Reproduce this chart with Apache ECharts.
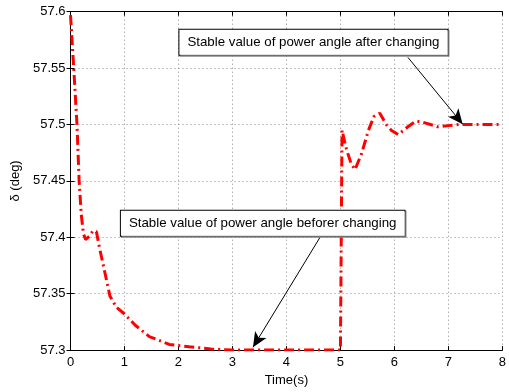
<!DOCTYPE html>
<html>
<head>
<meta charset="utf-8">
<script src="https://cdn.jsdelivr.net/npm/echarts@6/dist/echarts.min.js"></script>
<style>
  html, body { margin: 0; padding: 0; background: #fff; }
  #chart { width: 509px; height: 392px; }
</style>
</head>
<body>
<div id="chart"></div>
<script>
// power angle response
const time = [0, 0.06, 0.12, 0.16, 0.2, 0.24, 0.28, 0.35, 0.42, 0.48, 0.54, 0.6, 0.73, 0.85, 1.0, 1.2, 1.46, 1.83, 2.2, 2.6, 3.0, 3.5, 4.0, 4.5, 5.0,
  5.03, 5.1, 5.2, 5.27, 5.39, 5.52, 5.62, 5.73, 5.85, 5.94, 6.07, 6.25, 6.4, 6.53, 6.8, 7.0, 7.2, 7.6, 8.0];
const delta = [57.597, 57.55, 57.5, 57.45, 57.42, 57.403, 57.398, 57.401, 57.406, 57.405, 57.39, 57.377, 57.348, 57.338, 57.332, 57.322, 57.312, 57.305, 57.303, 57.301, 57.3, 57.3, 57.3, 57.3, 57.3,
  57.495, 57.48, 57.465, 57.46, 57.474, 57.495, 57.507, 57.51, 57.5, 57.495, 57.491, 57.498, 57.503, 57.502, 57.498, 57.499, 57.5, 57.5, 57.5];

const xTicks = [0, 8, 1];
const yTicks = [57.3, 57.6, 0.05];

const noteAfter = "Stable value of power angle after changing";
const noteBefore = "Stable value of power angle beforer changing";

// annotation anchors (data coords)
const afterBox = [4.5, 57.573];
const afterArrow = [[6.25, 57.5595], [7.265, 57.5003]];
const beforeBox = [3.56, 57.4125];
const beforeArrow = [[4.626, 57.4003], [3.38, 57.3025]];

const font = "Liberation Sans";
const dotted = { color: "#8a8a8a", type: [1, 3], width: 1 };

const chart = echarts.init(document.getElementById("chart"));

const xBase = {
  type: "value", min: xTicks[0], max: xTicks[1], interval: xTicks[2],
  axisLine: { show: true, lineStyle: { color: "#000", width: 1 } },
  axisTick: { show: true, inside: true, length: 4, lineStyle: { color: "#000" } },
};
const yBase = {
  type: "value", min: yTicks[0], max: yTicks[1], interval: yTicks[2],
  axisLine: { show: true, lineStyle: { color: "#000", width: 1 } },
  axisTick: { show: true, inside: true, length: 4, lineStyle: { color: "#000" } },
};

const boxLabel = {
  show: true, position: "inside", color: "#000", fontFamily: font, fontSize: 13.3,
  backgroundColor: "#fff", borderColor: "#000", borderWidth: 1, padding: [6, 8, 6, 8],
  shadowColor: "#888", shadowOffsetX: 1, shadowOffsetY: 1, shadowBlur: 0,
};

chart.setOption({
  animation: false,
  backgroundColor: "#fff",
  grid: { left: 70.5, right: 4, top: 11.7, bottom: 37.7 },
  xAxis: [
    Object.assign({}, xBase, {
      position: "bottom",
      name: "Time(s)", nameLocation: "middle", nameGap: 20,
      nameTextStyle: { color: "#000", fontFamily: font, fontSize: 13 },
      axisLabel: { color: "#000", fontFamily: font, fontSize: 13, margin: 6 },
      splitLine: { show: true, lineStyle: dotted },
    }),
    Object.assign({}, xBase, {
      position: "top", axisLabel: { show: false }, splitLine: { show: false },
    }),
  ],
  yAxis: [
    Object.assign({}, yBase, {
      position: "left",
      name: "δ (deg)", nameLocation: "middle", nameGap: 44,
      nameTextStyle: { color: "#000", fontFamily: font, fontSize: 13 },
      axisLabel: {
        color: "#000", fontFamily: font, fontSize: 13, margin: 5,
        formatter: (v) => v.toFixed(2).replace(/0$/, ""),
      },
      splitLine: { show: true, lineStyle: dotted },
    }),
    Object.assign({}, yBase, {
      position: "right", axisLabel: { show: false }, splitLine: { show: false },
    }),
  ],
  series: [
    {
      type: "line",
      data: time.map((t, i) => [t, delta[i]]),
      symbol: "none",
      lineStyle: { color: "#ff0000", width: 3, type: [10, 4, 2, 4] },
      emphasis: { disabled: true },
      markLine: {
        silent: true,
        symbol: ["none", "arrow"],
        symbolSize: [10, 15],
        label: { show: false },
        lineStyle: { color: "#000", width: 1, type: "solid" },
        data: [
          [{ coord: afterArrow[0] }, { coord: afterArrow[1] }],
          [{ coord: beforeArrow[0] }, { coord: beforeArrow[1] }],
        ],
      },
      markPoint: {
        silent: true,
        symbol: "rect",
        symbolSize: 0,
        data: [
          { coord: afterBox, label: Object.assign({}, boxLabel, { formatter: noteAfter }) },
          { coord: beforeBox, label: Object.assign({}, boxLabel, { formatter: noteBefore }) },
        ],
      },
    },
  ],
});
</script>
</body>
</html>
